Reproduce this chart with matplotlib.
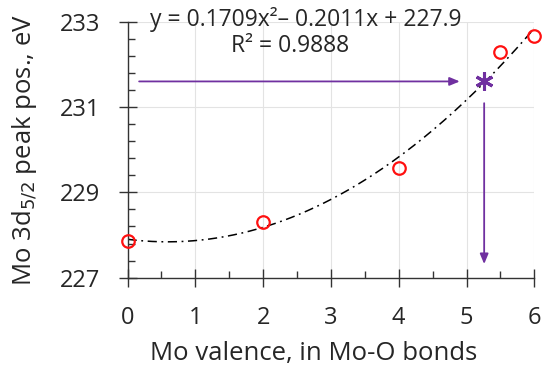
import matplotlib.pyplot as plt
import numpy as np

plt.rcParams['font.family'] = ['Open Sans', 'DejaVu Sans']

# measured points
valence = [0, 2, 4, 5.5, 6]
peak_pos = [227.86, 228.30, 229.58, 232.30, 232.67]

# trendline coefficients (as shown in the chart)
fit_coef = [0.1709, -0.2011, 227.9]
eq_text = "y = 0.1709x\u00b2\u2013 0.2011x + 227.9"
r2_text = "R\u00b2 = 0.9888"

# unknown sample
sample_x = 5.26
sample_y = 231.6
arrow_start_x = 0.17

x_ticks = [0, 1, 2, 3, 4, 5, 6]
y_ticks = [227, 229, 231, 233]

purple = '#7030A0'
dark = '#262626'

fig = plt.figure(figsize=(5.5, 3.74), dpi=100)
ax = fig.add_axes([0.232, 0.2575, 0.7395, 0.6845])

xs = np.linspace(0, 6, 200)
ax.plot(xs, np.polyval(fit_coef, xs), color='black', lw=1.1, ls=(0, (6, 3, 1.2, 3)), zorder=2)
ax.plot(valence, peak_pos, 'o', mfc='none', mec='#FF1010', mew=1.6, ms=9, zorder=3, clip_on=False)

# arrows and the sample marker
arrow_kw = dict(arrowstyle='-|>,head_length=0.6,head_width=0.25', color=purple, lw=1.3,
                shrinkA=0, shrinkB=0)
ax.annotate('', xy=(4.9, sample_y), xytext=(arrow_start_x, sample_y), arrowprops=arrow_kw)
ax.annotate('', xy=(sample_x, 227.32), xytext=(sample_x, 231.09), arrowprops=arrow_kw)
ax.plot([sample_x], [sample_y], marker=(6, 2, 0), ms=13, mew=2.2, color=purple, zorder=4)

ax.text(2.63, 233.04, eq_text, ha='center', va='center', fontsize=16.5, color=dark, clip_on=False)
ax.text(2.39, 232.42, r2_text, ha='center', va='center', fontsize=16.5, color=dark)

ax.set_xlim(0, 6)
ax.set_ylim(227, 233)
ax.set_xticks(x_ticks)
ax.set_yticks(y_ticks)
ax.set_xticks(np.arange(0.5, 6, 1), minor=True)
ax.set_yticks(np.arange(227.4, 233, 0.4), minor=True)

ax.grid(True, which='major', color='#e3e3e3', lw=0.8)
ax.set_axisbelow(True)
for s in ['top', 'right']:
    ax.spines[s].set_visible(False)
for s in ['left', 'bottom']:
    ax.spines[s].set_color('#333333')
    ax.spines[s].set_linewidth(1.0)

ax.tick_params(which='major', direction='inout', length=13, width=1.0, color='#333333',
               labelsize=17, labelcolor=dark)
ax.tick_params(axis='x', which='major', pad=14)
ax.tick_params(axis='y', which='major', pad=13)
ax.tick_params(which='minor', direction='in', length=5, width=1.0, color='#333333')

ax.set_xlabel("Mo valence, in Mo-O bonds", fontsize=18.5, color=dark, labelpad=8, x=0.457)
ax.set_ylabel("Mo 3d$_{5/2}$ peak pos., eV", fontsize=18.5, color=dark, labelpad=15)

fig.savefig('out.png', dpi=100)
